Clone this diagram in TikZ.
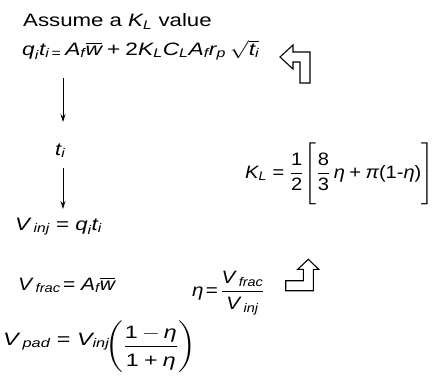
\documentclass[tikz,border=0pt]{standalone}
\usepackage{fix-cm}
\usepackage{amsmath}
\usepackage{graphicx}
\usepackage{fontspec}
\setmainfont{Liberation Sans}
\usetikzlibrary{arrows.meta}
\newcommand\X[1]{\text{\itshape #1}}
\newcommand\pl{\mathbin{\text{+}}}
\newcommand\eq{\mathrel{\text{=}}}
\newcommand\wide[2][1.22]{\scalebox{#1}[1]{#2}}
\tikzset{
  eqn/.style={inner sep=0pt, anchor=base west, font=\fontsize{18}{22}\selectfont},
  arr/.style={-{Stealth[length=8bp,width=5bp]}, line width=0.8bp},
  bigarrow/.style={draw, line width=1.1bp, fill=white}
}
\begin{document}
\begin{tikzpicture}[x=1bp,y=-1bp]
\useasboundingbox (0,0) rectangle (435,383);
\node[eqn] (assume) at (23,26.7) {\wide[1.24]{Assume a $\X{K}_{\X{L}}$ value}};
\node[eqn] (e1) at (22,55) {\wide[1.27]{$\X{q}_{\X{i}}\X{t}_{\X{i}\,\eq}\,\X{A}_{\X{f}}\overline{\X{w}} \pl \text{2}\X{K}_{\X{L}}\X{C}_{\X{L}}\X{A}_{\X{f}}\X{r}_{\X{p}}\,\sqrt{\X{t}_{\X{i}}}$}};
\node[eqn] (ti) at (55,155) {\wide{$\X{t}_{\X{i}}$}};
\node[eqn] (vinj) at (15,230) {\wide[1.24]{$\X{V}\,{}_{\X{inj}} \eq \X{q}_{\X{i}}\X{t}_{\X{i}}$}};
\node[eqn] (kl) at (245,178) {\wide[1.12]{$\X{K}_{\X{L}} \eq \dfrac{\text{1}\rule[-4bp]{0pt}{4bp}}{\text{2}}\!\left[\rule[-24bp]{0pt}{57bp}\dfrac{\text{8}\rule[-4bp]{0pt}{4bp}}{\text{3}}\,\X{η} \pl \X{π}\text{(1-}\X{η}\text{)}\right]$}};
\node[eqn] (vfrac) at (18,290) {\wide[1.17]{$\X{V}\,{}_{\X{frac}}\!\eq \X{A}_{\X{f}}\overline{\X{w}}$}};
\node[eqn] (eta) at (192,296) {\wide[1.15]{$\X{η}\!\eq\!\dfrac{\X{V}\,{}_{\X{frac}}\rule[-3bp]{0pt}{3bp}}{\X{V}\,{}_{\X{inj}}\rule{0pt}{16bp}}$}};
\node[eqn] (vpad) at (3,345) {\wide[1.3]{$\X{V}\,{}_{\X{pad}} \eq \X{V}_{\X{inj}}\raisebox{-6bp}{$\displaystyle\!\left(\dfrac{\text{1}\,{-}\,\X{η}\rule[-6bp]{0pt}{6bp}}{\text{1}\pl\X{η}\rule{0pt}{18bp}}\right)$}$}};
\coordinate (a1s) at (63,78);
\coordinate (a1e) at (63,122);
\coordinate (a2s) at (63,168);
\coordinate (a2e) at (63,209);
\draw[arr] (a1s) -- (a1e);
\draw[arr] (a2s) -- (a2e);
% turn arrows
\draw[bigarrow] (280,57) -- (293,45) -- (293,52) -- (310,52) -- (310,83) -- (300,83) -- (300,62) -- (293,62) -- (293,69) -- cycle;
\draw[bigarrow] (285.7,290.7) -- (313.3,290.7) -- (313.3,269.3) -- (318.7,269.3) -- (308.3,259.3) -- (297.7,269.3) -- (303.3,269.3) -- (303.3,280.7) -- (285.7,280.7) -- cycle;
\end{tikzpicture}
\end{document}
